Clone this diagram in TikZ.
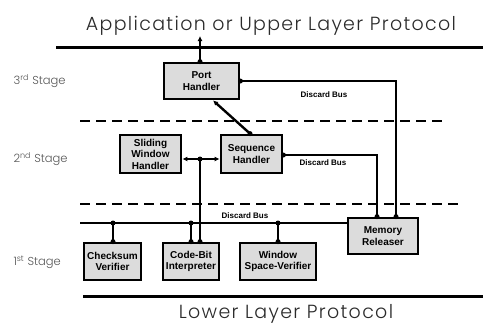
\documentclass[tikz,border=0pt]{standalone}
\usepackage{fontspec}
\setmainfont{Liberation Sans}
\newfontfamily\geo{Poppins Light}
\newfontfamily\geowide[LetterSpace=7]{Poppins Light}
\usetikzlibrary{arrows.meta}
\definecolor{boxfill}{HTML}{DCDCDC}
\definecolor{stagegray}{HTML}{555555}
\definecolor{layertext}{HTML}{2A2A2A}
\begin{document}
\begin{tikzpicture}[x=1pt,y=-1pt,
  blk/.style={draw, line width=2.8pt, fill=boxfill, align=center,
    font=\bfseries\fontsize{10}{11.5}\selectfont, inner sep=0pt},
  wire/.style={line width=2.4pt},
  layer/.style={line width=3pt},
  stageline/.style={line width=2.8pt, dash pattern=on 10pt off 6pt},
  tip/.style={-{Latex[length=5pt,width=5pt]}},
  bustag/.style={font=\bfseries\fontsize{8}{9}\selectfont},
  stagetag/.style={anchor=west, text=stagegray, font=\geo\fontsize{11.5}{13}\selectfont},
  layertag/.style={anchor=base, text=layertext, font=\geowide\fontsize{19}{22}\selectfont},
  dot/.style={circle, fill=black, inner sep=0pt, minimum size=5pt}]
\useasboundingbox (0,0) rectangle (483,325);

% layer boundaries
\draw[layer] (56,47) -- (483,47);
\draw[layer] (83,296) -- (483,296);
\node[layertag] (upper) at (271,30) {Application or Upper Layer Protocol};
\node[layertag] (lower) at (286,318) {Lower Layer Protocol};

% stage separators
\draw[stageline] (80,121) -- (447,121);
\draw[stageline] (80,204) -- (460,204);

% stage labels
\node[stagetag] (s3) at (10,81) {3\textsuperscript{rd} Stage};
\node[stagetag] (s2) at (10,159) {2\textsuperscript{nd} Stage};
\node[stagetag] (s1) at (10,262) {1\textsuperscript{st} Stage};

% processing blocks
\node[blk, minimum width=75pt, minimum height=36pt] (port) at (201.5,81) {Port\\Handler};
\node[blk, minimum width=61pt, minimum height=38pt] (slide) at (150.5,154) {Sliding\\Window\\Handler};
\node[blk, minimum width=61pt, minimum height=38pt] (seq) at (251.5,154) {Sequence\\Handler};
\node[blk, minimum width=70pt, minimum height=36pt] (mem) at (383,236) {Memory\\Releaser};
\node[blk, minimum width=57pt, minimum height=37pt] (chk) at (112.5,261.5) {Checksum\\Verifier};
\node[blk, minimum width=56pt, minimum height=37pt] (cbi) at (191,261.5) {Code-Bit\\Interpreter};
\node[blk, minimum width=76pt, minimum height=37pt] (wsv) at (278,261.5) {Window\\Space-Verifier};

% helper coordinates
\coordinate (up) at (200,36);
\coordinate (busA) at (396,0);
\coordinate (busB) at (377,0);
\coordinate (busL) at (80,223);
\coordinate (mid) at (200,159);

% port handler to upper layer
\draw[wire, tip] (up |- port.north) -- (up);
\node[dot] at (up |- port.north) {};

% sequence handler to port handler
\draw[wire, tip] ([xshift=-1.5pt]seq.north) -- ([xshift=11.5pt]port.south);
\node[dot] at ([xshift=-1.5pt]seq.north) {};

% discard buses to memory releaser
\draw[wire] (port.east) -| (busA |- mem.north);
\node[dot] at (port.east) {};
\node[dot] at (busA |- mem.north) {};
\node[bustag] (d3) at (324,95) {Discard Bus};

\draw[wire] ([yshift=-1pt]seq.east) -| (busB |- mem.north);
\node[dot] at ([yshift=-1pt]seq.east) {};
\node[dot] at (busB |- mem.north) {};
\node[bustag] (d2) at (323,163) {Discard Bus};

\draw[wire] (busL) -- (mem.west |- busL);
\node[bustag] (d1) at (245,216) {Discard Bus};

% sliding window <-> sequence handler, fed from code-bit interpreter
\draw[wire, {Latex[length=5pt,width=5pt]}-{Latex[length=5pt,width=5pt]}]
  (slide.east |- mid) -- (seq.west |- mid);
\draw[wire] (mid) -- (mid |- cbi.north);
\node[dot] at (mid) {};
\node[dot] at (mid |- cbi.north) {};

% first stage blocks hanging from the discard bus
\foreach \b/\x in {chk/113, cbi/191, wsv/278} {
  \draw[wire] (\x,223) -- (\x,0 |- \b.north);
  \node[dot] at (\x,223) {};
  \node[dot] at (\x,0 |- \b.north) {};
}
\end{tikzpicture}
\end{document}
